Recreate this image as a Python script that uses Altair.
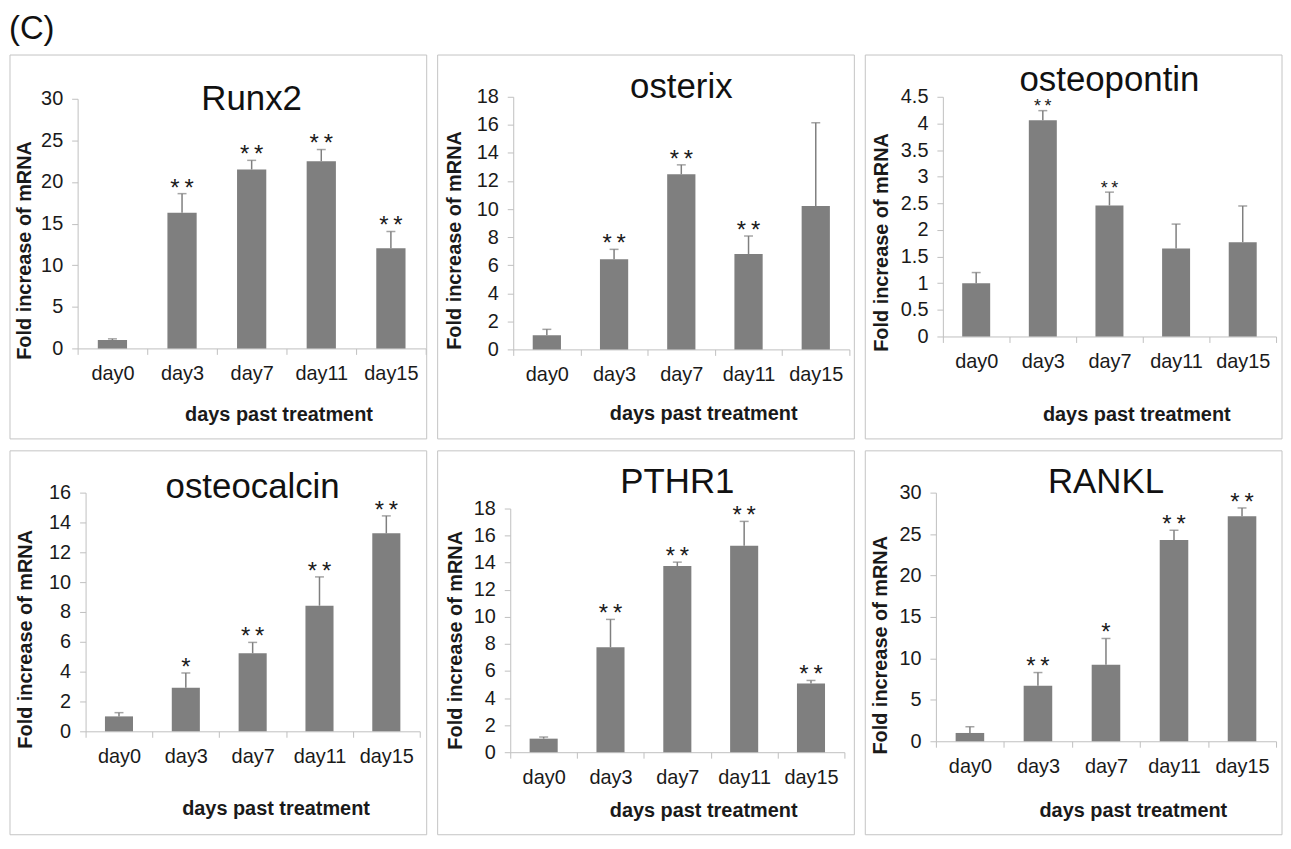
import altair as alt
import pandas as pd

days = ["day0", "day3", "day7", "day11", "day15"]

runx2_mean = [1.0, 16.3, 21.5, 22.5, 12.05]
runx2_err = [0.15, 2.3, 1.1, 1.4, 2.0]
runx2_sig = ["", "**", "**", "**", "**"]
runx2_ticks = [0, 5, 10, 15, 20, 25, 30]

osterix_mean = [1.0, 6.43, 12.48, 6.8, 10.21]
osterix_err = [0.43, 0.7, 0.67, 1.28, 5.94]
osterix_sig = ["", "**", "**", "**", ""]
osterix_ticks = [0, 2, 4, 6, 8, 10, 12, 14, 16, 18]

osteopontin_mean = [1.0, 4.06, 2.46, 1.65, 1.77]
osteopontin_err = [0.2, 0.18, 0.25, 0.46, 0.68]
osteopontin_sig = ["", "**", "**", "", ""]
osteopontin_ticks = [0, 0.5, 1, 1.5, 2, 2.5, 3, 3.5, 4, 4.5]

osteocalcin_mean = [1.0, 2.92, 5.23, 8.42, 13.27]
osteocalcin_err = [0.25, 0.99, 0.73, 1.93, 1.17]
osteocalcin_sig = ["", "*", "**", "**", "**"]
osteocalcin_ticks = [0, 2, 4, 6, 8, 10, 12, 14, 16]

pthr1_mean = [1.0, 7.75, 13.75, 15.25, 5.08]
pthr1_err = [0.12, 2.06, 0.29, 1.8, 0.22]
pthr1_sig = ["", "**", "**", "**", "**"]
pthr1_ticks = [0, 2, 4, 6, 8, 10, 12, 14, 16, 18]

rankl_mean = [1.0, 6.71, 9.24, 24.28, 27.16]
rankl_err = [0.75, 1.58, 3.16, 1.18, 0.99]
rankl_sig = ["", "**", "*", "**", "**"]
rankl_ticks = [0, 5, 10, 15, 20, 25, 30]

FONT = "Liberation Sans"
BAR = "#7f7f7f"
AXIS = "#c0c0c0"
BOX = "#c4c4c4"
TXT = "#1a1a1a"
BOX_W, BOX_H = 419, 386
CL, CT = 64, 40            # common plot origin inside each box
CW, CH = BOX_W - CL - 1, 300  # common (invisible) plot area


def panel(name, mean, err, sig, ticks, L, W, T, H, title_dy, ytx, yty, xtx, xty, star_size=24):
    dx = L - CL
    dy = T - CT
    df = pd.DataFrame({
        "day": days,
        "mean": mean,
        "top": [m + e for m, e in zip(mean, err)],
        "sig": [s.replace("**", "*\u2009*") for s in sig],
    })
    xscale = alt.Scale(paddingInner=0, paddingOuter=0, range=[dx, dx + W])
    xaxis = alt.Axis(
        title="days past treatment", tickBand="extent", labelAngle=0,
        offset=-(CH - (dy + H)),
        titleX=dx + W / 2 + xtx, titleY=xty, titleBaseline="alphabetic", titleAlign="center",
    )
    yscale = alt.Scale(domain=[ticks[0], ticks[-1]], nice=False, range=[dy + H, dy])
    yaxis = alt.Axis(
        values=ticks, format="~g", title="Fold increase of mRNA", offset=-dx,
        titleX=ytx, titleY=dy + yty, titleBaseline="middle", titleAlign="center",
    )
    X = alt.X("day:N", sort=days, scale=xscale, axis=xaxis)
    base = alt.Chart(df)
    bars = base.mark_bar(color=BAR, width=alt.RelativeBandSize(0.42)).encode(
        x=X, y=alt.Y("mean:Q", scale=yscale, axis=yaxis)
    )
    rule = base.mark_rule(color=BAR, strokeWidth=1.5).encode(
        x=X, y=alt.Y("mean:Q", scale=yscale, axis=yaxis), y2="top:Q"
    )
    cap = base.mark_tick(color=BAR, thickness=1.5, size=9, orient="horizontal").encode(
        x=X, y=alt.Y("top:Q", scale=yscale, axis=yaxis)
    )
    stars = base.mark_text(font=FONT, fontSize=star_size, baseline="alphabetic", color=TXT,
                           dy=star_size * 0.08).encode(
        x=X, y=alt.Y("top:Q", scale=yscale, axis=yaxis), text="sig:N"
    )
    title = alt.Chart(pd.DataFrame({"name": [name]})).mark_text(
        font=FONT, fontSize=35, baseline="alphabetic", align="center", color="#111111"
    ).encode(text="name:N", x=alt.value(dx + W / 2), y=alt.value(dy + title_dy))
    box = alt.Chart(pd.DataFrame({"k": [0]})).mark_rect(
        fill="#ffffff", fillOpacity=0, stroke=BOX, strokeWidth=1
    ).encode(x=alt.value(-CL), x2=alt.value(BOX_W - CL), y=alt.value(-CT), y2=alt.value(BOX_H - CT))
    return alt.layer(box, bars, rule, cap, stars, title).properties(width=CW, height=CH)


p1 = panel("Runx2", runx2_mean, runx2_err, runx2_sig, runx2_ticks,
           68, 350, 44, 251, 11, -53, 152, 27, 72)
p2 = panel("osterix", osterix_mean, osterix_err, osterix_sig, osterix_ticks,
           76, 338, 42, 254, 1, -59, 144, 22, 70)
p3 = panel("osteopontin", osteopontin_mean, osteopontin_err, osteopontin_sig, osteopontin_ticks,
           78, 335, 42, 241, -6, -62, 146, 27, 84, star_size=18)
p4 = panel("osteocalcin", osteocalcin_mean, osteocalcin_err, osteocalcin_sig, osteocalcin_ticks,
           76, 336, 42, 240, 5, -60, 147, 23, 84)
p5 = panel("PTHR1", pthr1_mean, pthr1_err, pthr1_sig, pthr1_ticks,
           73, 336, 58, 245, -16, -55, 132, 26, 65)
p6 = panel("RANKL", rankl_mean, rankl_err, rankl_sig, rankl_ticks,
           71, 342, 42, 250, 0, -56, 153, 27, 76)

chart = alt.concat(
    p1, p2, p3, p4, p5, p6,
    columns=3,
    spacing={"row": 10, "column": 9},
    title=alt.TitleParams("(C)", anchor="start", fontSize=33, font=FONT,
                          fontWeight="normal", offset=8, color="#111111"),
).properties(
    padding={"top": 3, "left": 1, "right": 0, "bottom": 0}
).configure_view(stroke="transparent").configure_axis(
    domainColor=AXIS, tickColor=AXIS, tickSize=6, domainWidth=1, tickWidth=1,
    labelFont=FONT, labelFontSize=20, labelColor=TXT, labelPadding=9,
    titleFont=FONT, titleFontSize=20, titleFontWeight="bold", titleColor=TXT,
    grid=False,
)

chart.save("out.html", embed_options={"renderer": "svg", "actions": False})
